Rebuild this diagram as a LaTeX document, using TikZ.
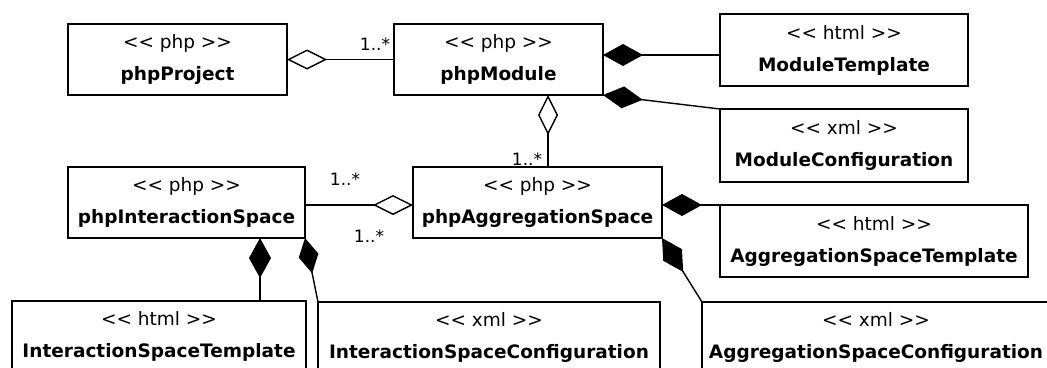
\documentclass[tikz,border=0pt]{standalone}
\usepackage{fontspec}
\setmainfont{DejaVu Sans}
\usetikzlibrary{arrows.meta}
\newcommand\stq[1]{<{}< #1 >{}>}
\begin{document}
\begin{tikzpicture}[x=1pt,y=-1pt,
  cls/.style={draw=black, line width=1.8pt, fill=white, inner sep=0pt, outer sep=0pt,
    minimum height=71pt, align=center, font=\fontsize{18.5}{32}\selectfont},
  link/.style={draw=black, line width=1.4pt},
  lab/.style={inner sep=0pt, anchor=base, font=\fontsize{17}{20}\selectfont},
  odiam/.tip={Diamond[open,length=40pt,width=20pt]},
  fdiam/.tip={Diamond[length=40pt,width=22pt]}]
\useasboundingbox (0,0) rectangle (1047,367);
\clip (0,0) rectangle (1047,367);
\fill[white] (0,0) rectangle (1047,367);

% helper positions for off-centre connectors
\coordinate (xa) at (548,0);
\coordinate (xb) at (260,0);
\coordinate (ya) at (0,55);
\coordinate (yb) at (0,205);

% classes
\node[cls, minimum width=219pt] (proj) at (177.5,59.5) {\stq{php}\\\textbf{phpProject}};
\node[cls, minimum width=209pt] (mod) at (498.5,59.5) {\stq{php}\\\textbf{phpModule}};
\node[cls, minimum width=248pt, minimum height=72pt] (mtpl) at (844,50) {\stq{html}\\\textbf{ModuleTemplate}};
\node[cls, minimum width=248pt, minimum height=73pt] (mcfg) at (844,145.5) {\stq{xml}\\\textbf{ModuleConfiguration}};
\node[cls, minimum width=237pt] (isp) at (186.5,202.5) {\stq{php}\\\textbf{phpInteractionSpace}};
\node[cls, minimum width=249pt] (asp) at (537.5,202.5) {\stq{php}\\\textbf{phpAggregationSpace}};
\node[cls, minimum width=308pt, minimum height=72pt] (astpl) at (874,241) {\stq{html}\\\textbf{AggregationSpaceTemplate}};
\node[cls, minimum width=294pt] (istpl) at (159,336.5) {\stq{html}\\\textbf{InteractionSpaceTemplate}};
\node[cls, minimum width=342pt] (iscfg) at (489,337.5) {\stq{xml}\\\textbf{InteractionSpaceConfiguration}};
\node[cls, minimum width=348pt] (ascfg) at (876,337.5) {\stq{xml}\\\textbf{AggregationSpaceConfiguration}};

% aggregations
\draw[link, odiam-] (proj.east) -- (mod.west);
\draw[link, odiam-] (mod.south -| xa) -- (asp.north -| xa);
\draw[link, -odiam] (isp.east |- yb) -- (asp.west |- yb);

% compositions
\draw[link, fdiam-] (mod.east |- ya) -- (mtpl.west |- ya);
\draw[link, fdiam-] (mod.south east) -- (mcfg.north west);
\draw[link, fdiam-] (astpl.north west -| asp.east) -- (astpl.north west);
\draw[link, fdiam-] (asp.south east) -- (ascfg.north west);
\draw[link, fdiam-] (isp.south -| xb) -- (istpl.north -| xb);
\draw[link, {Diamond[length=36pt,width=20pt]}-] (isp.south east) -- (iscfg.north west);

% multiplicities
\node[lab] (m1) at (375,50) {1..*};
\node[lab] (m2) at (527,165) {1..*};
\node[lab] (m3) at (345,185) {1..*};
\node[lab] (m4) at (369,242) {1..*};
\end{tikzpicture}
\end{document}
